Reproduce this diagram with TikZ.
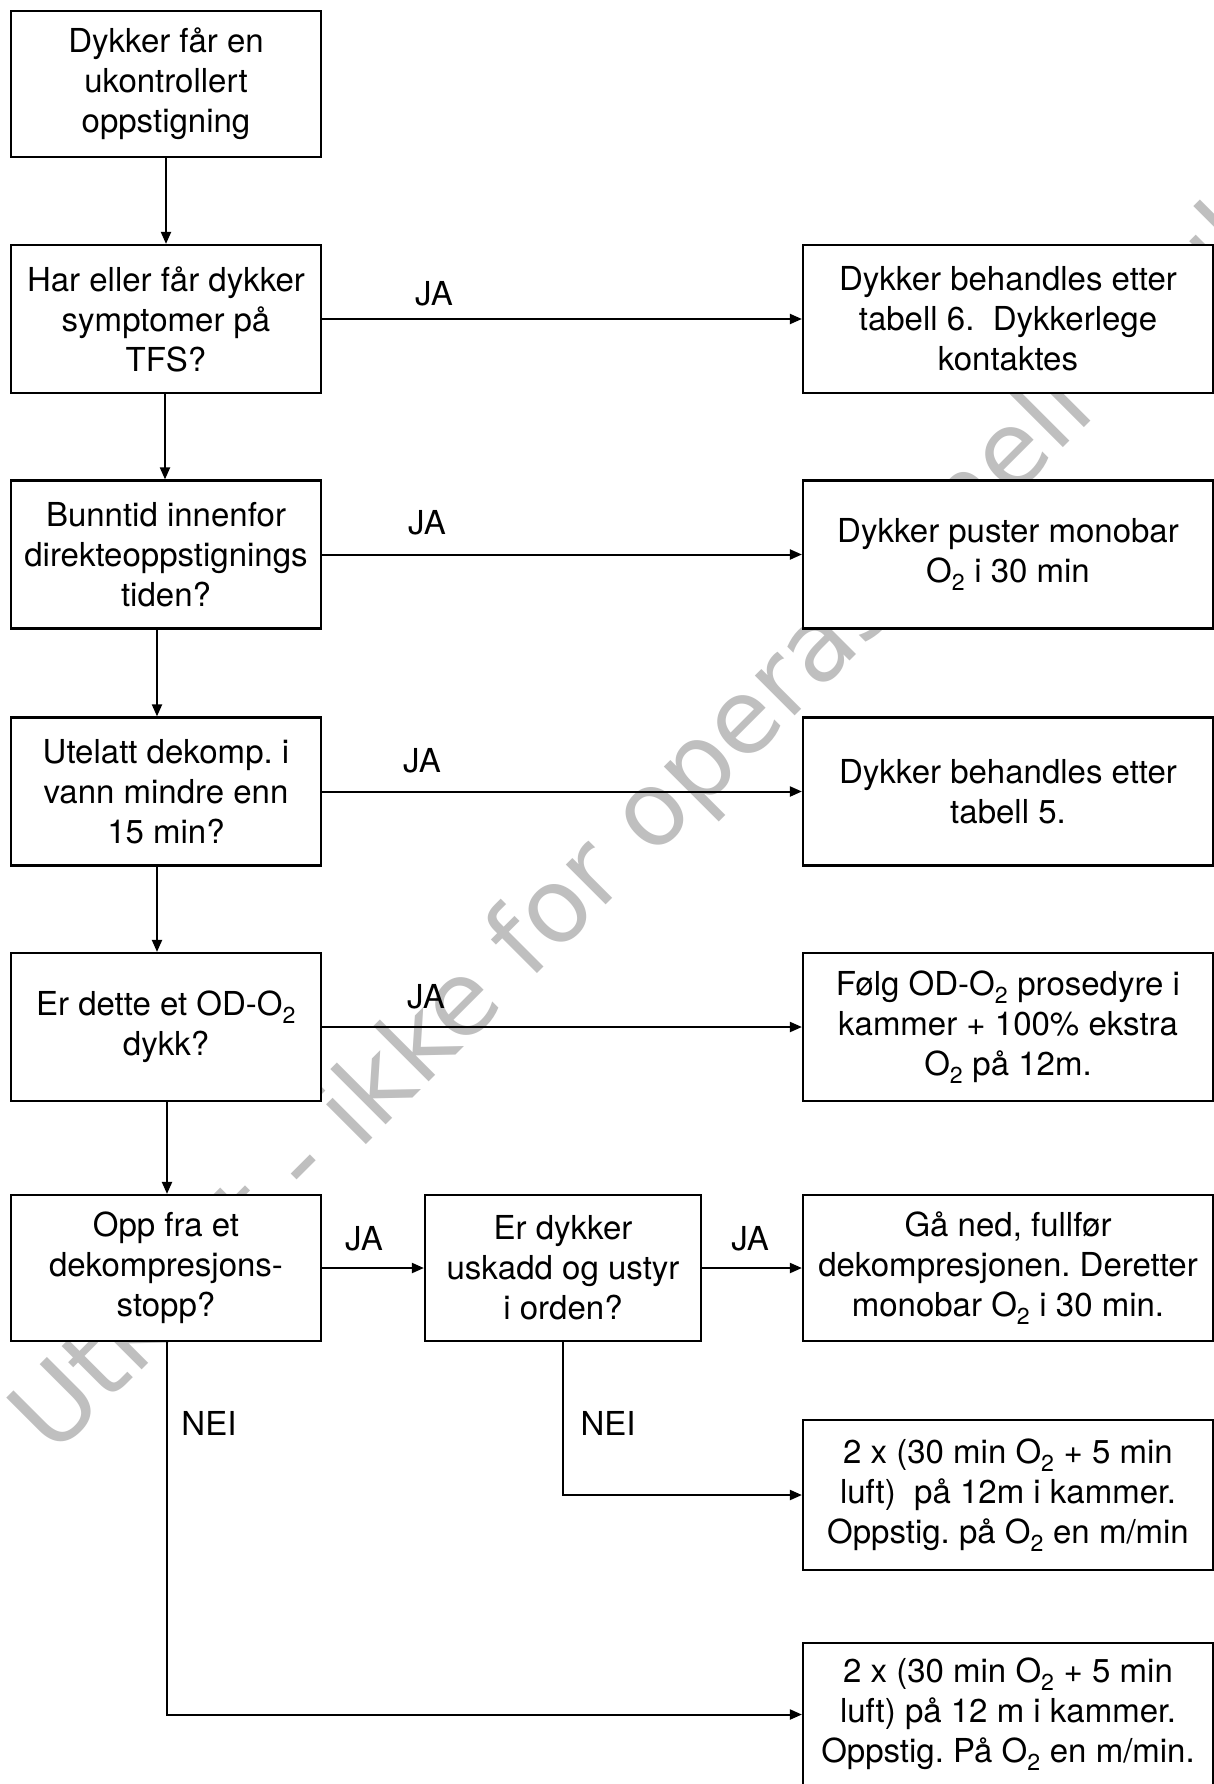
\documentclass[tikz,border=0pt]{standalone}
\usepackage{fontspec}
\setmainfont{TeX Gyre Heros}
\newfontfamily\wmfont{DejaVu Sans}
\usetikzlibrary{arrows.meta}
\newcommand{\Otwo}{O\textsubscript{2}}
\frenchspacing
\begin{document}
\begin{tikzpicture}[x=1pt,y=-1pt,
  box/.style={draw, line width=2.2pt, fill=white, align=center, inner sep=0pt,
    minimum width=310pt, minimum height=148pt, font=\fontsize{33}{40}\selectfont},
  rbox/.style={box, minimum width=410pt},
  mbox/.style={box, minimum width=276pt},
  arr/.style={line width=2pt, -{Triangle[length=12pt,width=10pt]}},
  lbl/.style={inner sep=0pt, font=\fontsize{33}{40}\selectfont},
  wm/.style={inner sep=0pt, text=black!25, font=\wmfont\fontsize{103}{120}\selectfont,
    rotate=45, anchor=base west}]
\useasboundingbox (0,0) rectangle (1214,1784);
\fill[white] (0,0) rectangle (1214,1784);
% watermark
\node[wm] (wm) at (53,1458) {Utkast - ikke for operasjonell bruk};
% left column
\node[box, minimum height=146pt] (b1) at (166,84) {Dykker får en\\ukontrollert\\oppstigning};
\node[box] (b2) at (166,319) {Har eller får dykker\\symptomer på\\TFS?};
\node[box] (b3) at (166,554.5) {Bunntid innenfor\\direkteoppstignings\\tiden?};
\node[box] (b4) at (166,791.5) {Utelatt dekomp. i\\vann mindre enn\\15 min?};
\node[box] (b5) at (166,1027) {Er dette et OD-\Otwo\\dykk?};
\node[box, minimum height=146pt] (b6) at (166,1268) {Opp fra et\\dekompresjons-\\stopp?};
\node[mbox, minimum height=146pt] (m6) at (563,1268) {Er dykker\\uskadd og ustyr\\i orden?};
% right column
\node[rbox] (r1) at (1008,319) {Dykker behandles etter\\tabell 6.~ Dykkerlege\\kontaktes};
\node[rbox] (r2) at (1008,554.5) {Dykker puster monobar\\\Otwo{} i 30 min};
\node[rbox] (r3) at (1008,791.5) {Dykker behandles etter\\tabell 5.};
\node[rbox] (r4) at (1008,1027) {Følg OD-\Otwo{} prosedyre i\\kammer + 100\% ekstra\\\Otwo{} på 12m.};
\node[rbox, minimum height=146pt] (r5) at (1008,1268) {Gå ned, fullfør\\dekompresjonen. Deretter\\monobar \Otwo{} i 30 min.};
\node[rbox, minimum height=150pt] (r6) at (1008,1495) {2 x (30 min \Otwo{} + 5 min\\luft)~ på 12m i kammer.\\Oppstig. på \Otwo{} en m/min};
\node[rbox, minimum height=143pt] (r7) at (1008,1714.5) {2 x (30 min \Otwo{} + 5 min\\luft) på 12 m i kammer.\\Oppstig. På \Otwo{} en m/min.};
% vertical connectors
\draw[arr] (b1.south) -- (b2.north);
\draw[arr] ([xshift=-1pt]b2.south) -- ([xshift=-1pt]b3.north);
\draw[arr] ([xshift=-9pt]b3.south) -- ([xshift=-9pt]b4.north);
\draw[arr] ([xshift=-9pt]b4.south) -- ([xshift=-9pt]b5.north);
\draw[arr] ([xshift=1pt]b5.south) -- ([xshift=1pt]b6.north);
% horizontal connectors
\draw[arr] (b2.east) -- (r1.west);
\draw[arr] (b3.east) -- (r2.west);
\draw[arr] (b4.east) -- (r3.west);
\draw[arr] (b5.east) -- (r4.west);
\draw[arr] (b6.east) -- (m6.west);
\draw[arr] (m6.east) -- (r5.west);
\draw[arr] (m6.south) |- (r6.west);
\draw[arr] ([xshift=1pt]b6.south) |- (r7.west);
% labels
\node[lbl] (ja1) at (434,294) {JA};
\node[lbl] (ja2) at (427,523) {JA};
\node[lbl] (ja3) at (422,761) {JA};
\node[lbl] (ja4) at (426,997) {JA};
\node[lbl] (ja5) at (364,1239) {JA};
\node[lbl] (ja6) at (750,1239) {JA};
\node[lbl] (nei1) at (209,1423) {NEI};
\node[lbl] (nei2) at (608,1423) {NEI};
\end{tikzpicture}
\end{document}
